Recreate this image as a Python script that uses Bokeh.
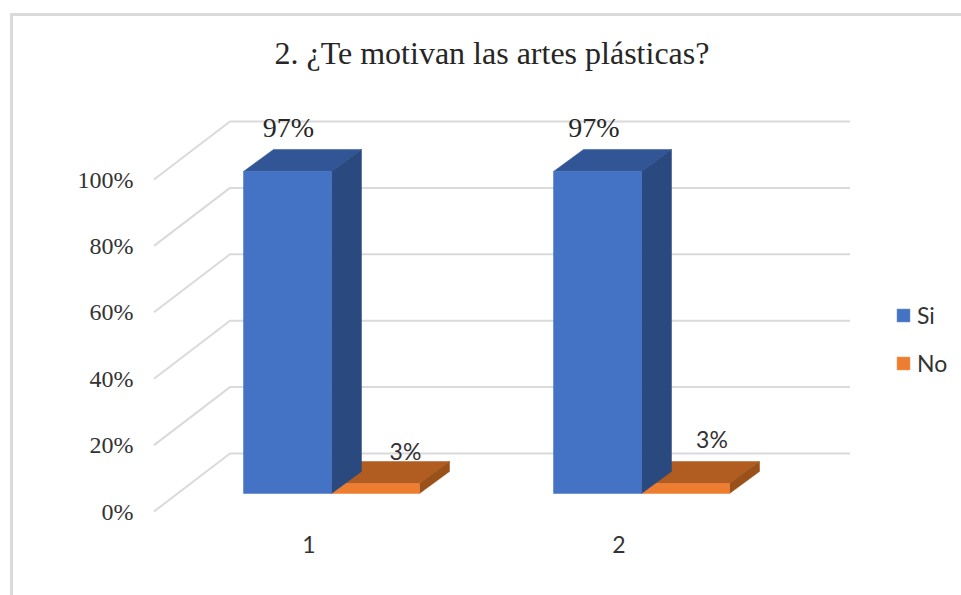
from bokeh.plotting import figure
from bokeh.models import Range1d, FixedTicker, Legend, LegendItem, ColumnDataSource
from bokeh.core.properties import value
from bokeh.embed import file_html
from bokeh.resources import INLINE

# --- data ---
categories = [1, 2]
series_names = ["Si", "No"]
si_values = [97, 97]
no_values = [3, 3]
y_ticks = [0, 20, 40, 60, 80, 100]

# --- colours ---
BLUE, BLUE_TOP, BLUE_SIDE = "#4472C4", "#325695", "#2A4A7F"
ORANGE, ORANGE_TOP, ORANGE_SIDE = "#ED7D31", "#B15D22", "#9A5119"
GRID = "#DADADA"

# --- layout (pixels) ---
W, H = 961, 595
L, R, T, B = 139, 0, 74, 74        # frame insets inside the figure
PX_X = 310                         # pixels per category
PX_Y = 3.32                        # pixels per percentage point
FW, FH = W - L - R, H - T - B
ZERO_Y, CAT1_X = 511, 308.5
x0 = 1 - (CAT1_X - L) / PX_X
y0 = -((T + FH) - ZERO_Y) / PX_Y
dx = lambda px: px / PX_X
dy = lambda px: px / PX_Y

p = figure(width=W, height=H, output_backend="svg", toolbar_location=None,
           x_range=Range1d(x0, x0 + FW / PX_X), y_range=Range1d(y0, y0 + FH / PX_Y),
           min_border_left=L, min_border_right=R, min_border_top=T, min_border_bottom=B)
p.outline_line_color = None
p.grid.visible = False
p.background_fill_color = None
p.border_fill_color = None
# chart frame: top and left rules behind the transparent canvas
p.styles = {"background": (f"linear-gradient({GRID},{GRID}) 10px 13px / 100% 3px no-repeat, "
                           f"linear-gradient({GRID},{GRID}) 10px 13px / 3px 100% no-repeat, #ffffff")}

p.title.text = "2. ¿Te motivan las artes plásticas?"
p.title.text_font = "Liberation Serif"
p.title.text_font_size = "32px"
p.title.text_font_style = "normal"
p.title.text_color = "#262626"
p.title.align = "left"
p.title.offset = 135
p.title.standoff = 8

# axes: text only, at the front edge of the floor
p.yaxis.ticker = FixedTicker(ticks=y_ticks)
p.yaxis.major_label_overrides = {t: f"{t}%" for t in y_ticks}
p.yaxis.major_label_text_font = "Liberation Serif"
p.yaxis.major_label_text_font_size = "24px"
p.yaxis.major_label_text_color = "#333333"
p.yaxis.axis_line_color = None
p.yaxis.major_tick_line_color = None
p.yaxis.minor_tick_line_color = None
p.yaxis.major_label_standoff = 0

p.xaxis.ticker = FixedTicker(ticks=categories)
p.xaxis.major_label_overrides = {c: str(c) for c in categories}
p.xaxis.major_label_text_font = "Lato"
p.xaxis.major_label_text_font_size = "23px"
p.xaxis.major_label_text_color = "#333333"
p.xaxis.axis_line_color = None
p.xaxis.major_tick_line_color = None
p.xaxis.minor_tick_line_color = None
p.xaxis.major_label_standoff = 8

# gridlines: floor diagonal + back wall
DEPTH_X, DEPTH_Y = dx(76), dy(58)
x_start = categories[0] - 0.5
x_end = categories[-1] + 0.5
p.multi_line([[x_start, x_start + DEPTH_X, x_end + DEPTH_X] for _ in y_ticks],
             [[t, t + DEPTH_Y, t + DEPTH_Y] for t in y_ticks],
             line_color=GRID, line_width=2)

# 3D bars
BAR_W = dx(88)
FRONT_X, FRONT_Y = dx(22.5), dy(18)    # front face offset on the floor
SIDE_X, SIDE_Y = dx(30), dy(22)        # bar depth


def bar(cat, val, slot):
    left = cat + FRONT_X + (slot - 1) * BAR_W
    right = left + BAR_W
    bot = FRONT_Y
    top = FRONT_Y + val
    return left, right, bot, top


def draw(values, slot, front, top_c, side_c):
    rows = [bar(c, v, slot) for c, v in zip(categories, values)]
    p.patches([[r[0], r[0] + SIDE_X, r[1] + SIDE_X, r[1]] for r in rows],
              [[r[3], r[3] + SIDE_Y, r[3] + SIDE_Y, r[3]] for r in rows],
              fill_color=top_c, line_color=top_c, line_width=0.5)
    p.patches([[r[1], r[1] + SIDE_X, r[1] + SIDE_X, r[1]] for r in rows],
              [[r[2], r[2] + SIDE_Y, r[3] + SIDE_Y, r[3]] for r in rows],
              fill_color=side_c, line_color=side_c, line_width=0.5)
    return p.quad(left=[r[0] for r in rows], right=[r[1] for r in rows],
                  bottom=[r[2] for r in rows], top=[r[3] for r in rows],
                  fill_color=front, line_color=front, line_width=0.5)


r_no = draw(no_values, 1, ORANGE, ORANGE_TOP, ORANGE_SIDE)
r_si = draw(si_values, 0, BLUE, BLUE_TOP, BLUE_SIDE)

# data labels
si_src = ColumnDataSource(dict(
    x=[categories[0] + dx(-20.5), categories[1] + dx(-25)],
    y=si_values, t=[f"{v}%" for v in si_values], off=[-62, -62]))
p.text("x", "y", text="t", source=si_src, text_align="center", text_baseline="middle",
       y_offset="off", text_font=value("Liberation Serif"), text_font_size="28px", text_color="#262626")
no_src = ColumnDataSource(dict(
    x=[categories[0] + dx(96.5), categories[1] + dx(93)],
    y=no_values, t=[f"{v}%" for v in no_values], off=[-51, -63]))
p.text("x", "y", text="t", source=no_src, text_align="center", text_baseline="middle",
       y_offset="off", text_font=value("Lato"), text_font_size="23px", text_color="#333333")

legend = Legend(items=[LegendItem(label=series_names[0], renderers=[r_si]),
                       LegendItem(label=series_names[1], renderers=[r_no])],
                location=(895 - L, FH - (377 - T)),
                orientation="vertical", background_fill_alpha=0, border_line_color=None,
                glyph_width=16, glyph_height=16, label_height=16, spacing=20, padding=0,
                margin=0, label_text_font="Lato", label_text_font_size="23px",
                label_text_color="#333333", label_standoff=6)
p.add_layout(legend)

open("out.html", "w").write(file_html(p, INLINE))
